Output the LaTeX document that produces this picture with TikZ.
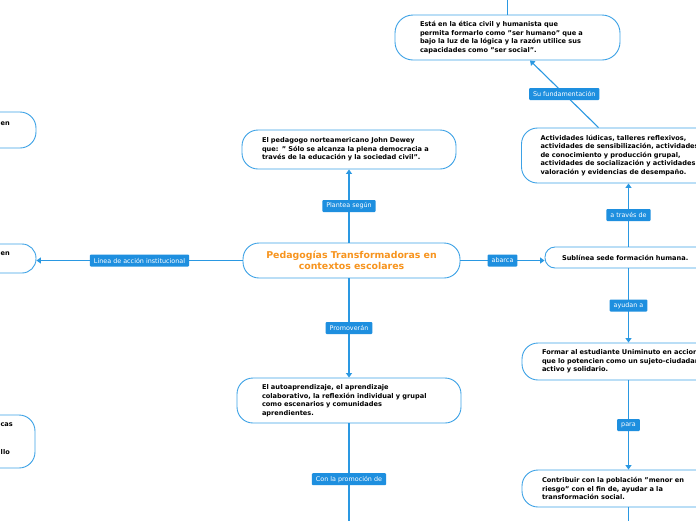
\documentclass[tikz,border=0pt]{standalone}
\usepackage{fontspec}
\setmainfont{DejaVu Sans}
\usetikzlibrary{arrows.meta}
\definecolor{bord}{HTML}{3DA2E6}
\definecolor{connc}{HTML}{2A98E2}
\definecolor{lblfill}{HTML}{1E8FDF}
\definecolor{orangetitle}{HTML}{F7941E}
\tikzset{
  box/.style={draw=bord, line width=0.9pt, fill=white, rounded corners=16pt,
    font=\fontsize{6.6}{8.5}\selectfont\bfseries, align=left, inner ysep=0pt},
  titlebox/.style={box, font=\fontsize{9.4}{11}\selectfont\bfseries, text=orangetitle, align=center},
  lbl/.style={fill=lblfill, text=white, font=\fontsize{6.4}{7}\selectfont,
    inner xsep=4pt, inner ysep=0pt, minimum height=12pt, rounded corners=1pt},
  frag/.style={font=\fontsize{6.6}{8.5}\selectfont\bfseries, inner sep=0pt},
  link/.style={draw=connc, line width=1.1pt},
  arr/.style={link, -{Triangle[width=6pt,length=4.5pt]}}
}
\begin{document}
\begin{tikzpicture}[x=1pt,y=-1pt]
\fill[white] (0,0) rectangle (696,520);
\useasboundingbox (0,0) rectangle (696,520);

% central column
\node[titlebox, minimum width=217pt, minimum height=35pt, text width=180pt, inner xsep=18.5pt] (center) at (351.5,260.5)
  {Pedagogías Transformadoras en\\contextos escolares};
\node[box, minimum width=214pt, minimum height=39pt, text width=174pt, inner xsep=20pt] (dewey) at (349,149.5)
  {\mbox{El pedagogo norteamericano John Dewey}\\\mbox{que: " Sólo se alcanza la plena democracia a}\\\mbox{través de la educación y la sociedad civil".}};
\node[box, minimum width=224pt, minimum height=45pt, text width=174pt, inner xsep=25pt] (auto) at (349,400.5)
  {\mbox{El autoaprendizaje, el aprendizaje}\\\mbox{colaborativo, la reflexión individual y grupal}\\\mbox{como escenarios y comunidades}\\\mbox{aprendientes.}};

% right column
\node[box, minimum width=225pt, minimum height=45pt, text width=175pt, inner xsep=25pt, rounded corners=18pt] (etica) at (507.5,37.5)
  {\mbox{Está en la ética civil y humanista que}\\\mbox{permita formarlo como "ser humano" que a}\\\mbox{bajo la luz de la lógica y la razón utilice sus}\\\mbox{capacidades como "ser social".}};
\node[box, minimum width=214pt, minimum height=55pt, text width=176pt, inner xsep=19pt] (actividades) at (628.5,155.5)
  {\mbox{Actividades lúdicas, talleres reflexivos,}\\\mbox{actividades de sensibilización, actividades}\\\mbox{de conocimiento y producción grupal,}\\\mbox{actividades de socialización y actividades de}\\\mbox{valoración y evidencias de desempaño.}};
\node[box, minimum width=167pt, minimum height=21pt, text width=133pt, inner xsep=17pt, rounded corners=10pt] (sublinea) at (628.5,257.5)
  {\mbox{Sublínea sede formación humana.}};
\node[box, minimum width=213pt, minimum height=37pt, text width=173pt, inner xsep=20pt] (formar) at (628.5,361.5)
  {\mbox{Formar al estudiante Uniminuto en acciones}\\\mbox{que lo potencien como un sujeto-ciudadano}\\\mbox{activo y solidario.}};
\node[box, minimum width=213pt, minimum height=37pt, text width=173pt, inner xsep=20pt] (contribuir) at (628.5,488.5)
  {\mbox{Contribuir con la población "menor en}\\\mbox{riesgo" con el fin de, ayudar a la}\\\mbox{transformación social.}};

% left column (mostly off page)
\node[box, minimum width=214pt, minimum height=36pt] (L1) at (-71,130) {};
\node[box, minimum width=214pt, minimum height=29pt, rounded corners=14pt] (L2) at (-71,258.5) {};
\node[box, minimum width=214pt, minimum height=53pt] (L3) at (-72,441.5) {};
\node[frag, anchor=east] (f1) at (10,123) {len};
\node[frag, anchor=east] (f2) at (10,254) {en};
\node[frag, anchor=east] (f3) at (13,425) {cas};
\node[frag, anchor=east] (f4) at (10,452) {llo};

% off-page continuation points
\coordinate (eticaend) at (507.5,-20);
\coordinate (autoend) at (349,535);
\coordinate (contend) at (628.5,540);

% connectors
\draw[arr] (dewey.south |- center.north) -- node[lbl]{Plantea según} (dewey.south);
\draw[arr] (auto.north |- center.south) -- node[lbl]{Promoverán} (auto.north);
\draw[arr] (center.west) -- node[lbl]{Línea de acción institucional} (center.west -| L2.east);
\draw[arr] (center.east) -- node[lbl]{abarca} (center.east -| sublinea.west);
\draw[arr] (sublinea.north) -- node[lbl]{a través de} (actividades.south);
\draw[arr] (sublinea.south) -- node[lbl]{ayudan a} (formar.north);
\draw[arr] (formar.south) -- node[lbl]{para} (contribuir.north);
\draw[arr] ([xshift=-30pt]actividades.north) -- node[lbl]{Su fundamentación} ([xshift=22.5pt]etica.south);
\draw[link] (auto.south) -- node[lbl]{Con la promoción de} (autoend);
\draw[link] (contribuir.south) -- (contend);
\draw[link] (etica.north) -- (eticaend);
\end{tikzpicture}
\end{document}
